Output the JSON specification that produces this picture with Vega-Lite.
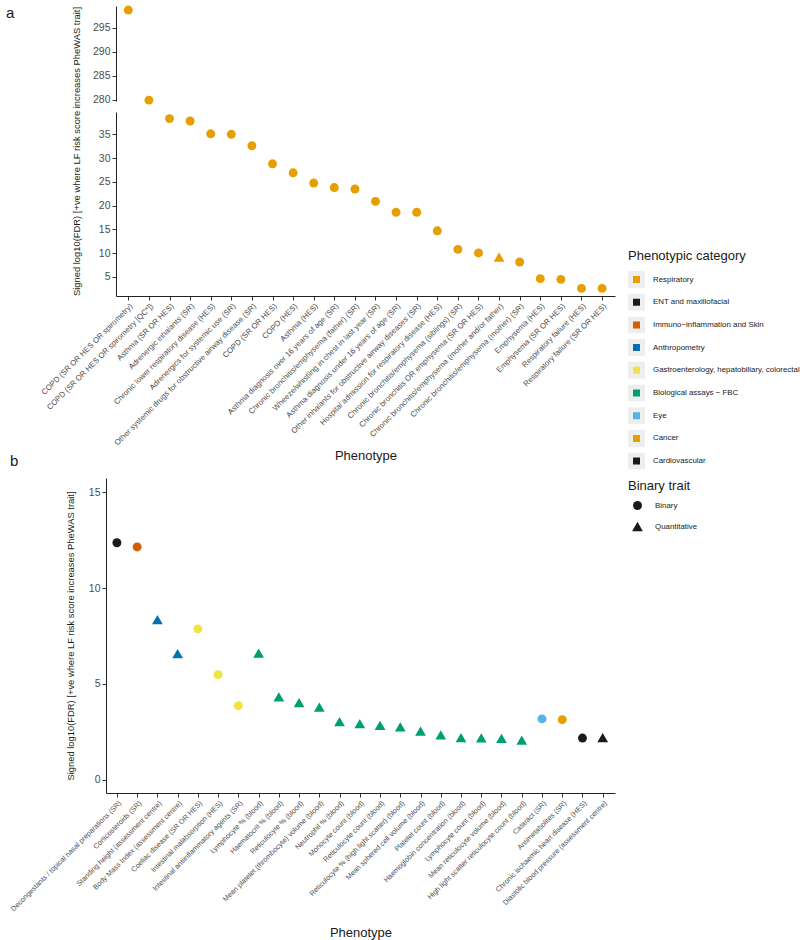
{
  "$schema": "https://vega.github.io/schema/vega-lite/v6.json",
  "background": "white",
  "padding": {"left": 6, "top": 5, "right": 0, "bottom": 0},
  "spacing": -9,
  "columns": 1,
  "align": "none",
  "config": {
    "font": "Liberation Sans",
    "view": {"stroke": null},
    "axis": {"grid": false, "domainColor": "#222222", "tickColor": "#333333", "labelColor": "#4d4d4d", "titleColor": "#1a1a1a", "titleFontWeight": "normal", "tickSize": 4},
    "legend": {"titleFontSize": 13, "titleFontWeight": "normal", "titleColor": "#1a1a1a", "labelFontSize": 7.9, "labelColor": "#1a1a1a", "padding": 0, "titlePadding": 8, "labelOffset": 8},
    "title": {"fontWeight": "normal", "fontSize": 15, "color": "#1a1a1a"}
  },
  "resolve": {"scale": {"x": "independent", "y": "independent"}},
  "datasets": {
    "a": [
      {"phen": "COPD (SR OR HES OR spirometry)", "val": 298.75, "cat": "Respiratory", "trait": "Binary"},
      {"phen": "COPD (SR OR HES OR spirometry [QC*])", "val": 279.9, "cat": "Respiratory", "trait": "Binary"},
      {"phen": "Asthma (SR OR HES)", "val": 38.3, "cat": "Respiratory", "trait": "Binary"},
      {"phen": "Adrenergic inhalants (SR)", "val": 37.8, "cat": "Respiratory", "trait": "Binary"},
      {"phen": "Chronic lower respiratory disease (HES)", "val": 35.1, "cat": "Respiratory", "trait": "Binary"},
      {"phen": "Adrenergics for systemic use (SR)", "val": 35.0, "cat": "Respiratory", "trait": "Binary"},
      {"phen": "Other systemic drugs for obstructive airway disease (SR)", "val": 32.6, "cat": "Respiratory", "trait": "Binary"},
      {"phen": "COPD (SR OR HES)", "val": 28.8, "cat": "Respiratory", "trait": "Binary"},
      {"phen": "COPD (HES)", "val": 26.9, "cat": "Respiratory", "trait": "Binary"},
      {"phen": "Asthma (HES)", "val": 24.75, "cat": "Respiratory", "trait": "Binary"},
      {"phen": "Asthma diagnosis over 16 years of age (SR)", "val": 23.8, "cat": "Respiratory", "trait": "Binary"},
      {"phen": "Chronic bronchitis/emphysema (father) (SR)", "val": 23.5, "cat": "Respiratory", "trait": "Binary"},
      {"phen": "Wheeze/whistling in chest in last year (SR)", "val": 20.9, "cat": "Respiratory", "trait": "Binary"},
      {"phen": "Asthma diagnosis under 16 years of age (SR)", "val": 18.6, "cat": "Respiratory", "trait": "Binary"},
      {"phen": "Other inhalants for obstructive airway diseases (SR)", "val": 18.6, "cat": "Respiratory", "trait": "Binary"},
      {"phen": "Hospital admission for respiratory disease (HES)", "val": 14.7, "cat": "Respiratory", "trait": "Binary"},
      {"phen": "Chronic bronchitis/emphysema (siblings) (SR)", "val": 10.8, "cat": "Respiratory", "trait": "Binary"},
      {"phen": "Chronic bronchitis OR emphysema (SR OR HES)", "val": 10.05, "cat": "Respiratory", "trait": "Binary"},
      {"phen": "Chronic bronchitis/emphysema (mother and/or father)", "val": 9.2, "cat": "Respiratory", "trait": "Quantitative"},
      {"phen": "Chronic bronchitis/emphysema (mother) (SR)", "val": 8.15, "cat": "Respiratory", "trait": "Binary"},
      {"phen": "Emphysema (HES)", "val": 4.65, "cat": "Respiratory", "trait": "Binary"},
      {"phen": "Emphysema (SR OR HES)", "val": 4.5, "cat": "Respiratory", "trait": "Binary"},
      {"phen": "Respiratory failure (HES)", "val": 2.6, "cat": "Respiratory", "trait": "Binary"},
      {"phen": "Respiratory failure (SR OR HES)", "val": 2.6, "cat": "Respiratory", "trait": "Binary"}
    ],
    "b": [
      {"phen": "Decongestants / topical nasal preparations (SR)", "val": 12.37, "cat": "ENT and maxillofacial", "trait": "Binary"},
      {"phen": "Corticosteroids (SR)", "val": 12.15, "cat": "Immuno\u2212inflammation and Skin", "trait": "Binary"},
      {"phen": "Standing height (assessment centre)", "val": 8.35, "cat": "Anthropometry", "trait": "Quantitative"},
      {"phen": "Body Mass Index (assessment centre)", "val": 6.58, "cat": "Anthropometry", "trait": "Quantitative"},
      {"phen": "Coeliac disease (SR OR HES)", "val": 7.87, "cat": "Gastroenterology, hepatobiliary, colorectal", "trait": "Binary"},
      {"phen": "Intestinal malabsorption (HES)", "val": 5.48, "cat": "Gastroenterology, hepatobiliary, colorectal", "trait": "Binary"},
      {"phen": "Intestinal antiinflammatory agents (SR)", "val": 3.86, "cat": "Gastroenterology, hepatobiliary, colorectal", "trait": "Binary"},
      {"phen": "Lymphocyte % (blood)", "val": 6.6, "cat": "Biological assays \u2212 FBC", "trait": "Quantitative"},
      {"phen": "Haematocrit % (blood)", "val": 4.32, "cat": "Biological assays \u2212 FBC", "trait": "Quantitative"},
      {"phen": "Reticulocyte % (blood)", "val": 4.02, "cat": "Biological assays \u2212 FBC", "trait": "Quantitative"},
      {"phen": "Mean platelet (thrombocyte) volume (blood)", "val": 3.78, "cat": "Biological assays \u2212 FBC", "trait": "Quantitative"},
      {"phen": "Neutrophil % (blood)", "val": 3.03, "cat": "Biological assays \u2212 FBC", "trait": "Quantitative"},
      {"phen": "Monocyte count (blood)", "val": 2.92, "cat": "Biological assays \u2212 FBC", "trait": "Quantitative"},
      {"phen": "Reticulocyte count (blood)", "val": 2.83, "cat": "Biological assays \u2212 FBC", "trait": "Quantitative"},
      {"phen": "Reticulocyte % (high light scatter) (blood)", "val": 2.75, "cat": "Biological assays \u2212 FBC", "trait": "Quantitative"},
      {"phen": "Mean sphered cell volume (blood)", "val": 2.53, "cat": "Biological assays \u2212 FBC", "trait": "Quantitative"},
      {"phen": "Platelet count (blood)", "val": 2.34, "cat": "Biological assays \u2212 FBC", "trait": "Quantitative"},
      {"phen": "Haemoglobin concentration (blood)", "val": 2.19, "cat": "Biological assays \u2212 FBC", "trait": "Quantitative"},
      {"phen": "Lymphocyte count (blood)", "val": 2.18, "cat": "Biological assays \u2212 FBC", "trait": "Quantitative"},
      {"phen": "Mean reticulocyte volume (blood)", "val": 2.15, "cat": "Biological assays \u2212 FBC", "trait": "Quantitative"},
      {"phen": "High light scatter reticulocyte count (blood)", "val": 2.06, "cat": "Biological assays \u2212 FBC", "trait": "Quantitative"},
      {"phen": "Cataract (SR)", "val": 3.17, "cat": "Eye", "trait": "Binary"},
      {"phen": "Antimetabolites (SR)", "val": 3.13, "cat": "Cancer", "trait": "Binary"},
      {"phen": "Chronic ischaemic heart disease (HES)", "val": 2.17, "cat": "Cardiovascular", "trait": "Binary"},
      {"phen": "Diastolic blood pressure (assessment centre)", "val": 2.19, "cat": "Cardiovascular", "trait": "Quantitative"}
    ]
  },
  "concat": [
    {
      "width": 499,
      "height": 290,
      "title": {"text": "a", "anchor": "start", "frame": "group", "orient": "top", "offset": 0, "dx": -110, "dy": 15, "fontSize": 15},
      "layer": [
        {
          "data": {"values": [{}]},
          "mark": {"type": "rect", "fill": "white", "stroke": "white", "strokeWidth": 3},
          "encoding": {"y": {"datum": 40}, "y2": {"datum": 279.2}}
        },
        {
          "data": {"name": "a"},
          "mark": {"type": "point", "filled": true, "opacity": 1},
          "encoding": {
            "x": {
              "field": "phen", "type": "nominal", "sort": null,
              "scale": {"type": "point", "padding": 0.612, "align": 0.488, "domain": ["COPD (SR OR HES OR spirometry)", "COPD (SR OR HES OR spirometry [QC*])", "Asthma (SR OR HES)", "Adrenergic inhalants (SR)", "Chronic lower respiratory disease (HES)", "Adrenergics for systemic use (SR)", "Other systemic drugs for obstructive airway disease (SR)", "COPD (SR OR HES)", "COPD (HES)", "Asthma (HES)", "Asthma diagnosis over 16 years of age (SR)", "Chronic bronchitis/emphysema (father) (SR)", "Wheeze/whistling in chest in last year (SR)", "Asthma diagnosis under 16 years of age (SR)", "Other inhalants for obstructive airway diseases (SR)", "Hospital admission for respiratory disease (HES)", "Chronic bronchitis/emphysema (siblings) (SR)", "Chronic bronchitis OR emphysema (SR OR HES)", "Chronic bronchitis/emphysema (mother and/or father)", "Chronic bronchitis/emphysema (mother) (SR)", "Emphysema (HES)", "Emphysema (SR OR HES)", "Respiratory failure (HES)", "Respiratory failure (SR OR HES)"]},
              "axis": {"title": "Phenotype", "titleFontSize": 13, "titlePadding": 3, "labelAngle": -45, "labelAlign": "right", "labelBaseline": "top", "labelFontSize": 7.8, "labelLimit": 400, "labelPadding": 2}
            },
            "y": {
              "field": "val", "type": "quantitative",
              "scale": {"domain": [1, 39.9, 279.3, 299.6], "range": [290, 105, 97, 0], "nice": false, "zero": false},
              "axis": {"title": "Signed log10(FDR) [+ve where LF risk score increases PheWAS trait]", "values": [5, 10, 15, 20, 25, 30, 35, 280, 285, 290, 295], "tickCount": 100, "labelOverlap": false, "titleFontSize": 9.4, "labelFontSize": 10.5, "titlePadding": 11}
            },
            "color": {
              "field": "cat", "type": "nominal",
              "scale": {"domain": ["Respiratory", "ENT and maxillofacial", "Immuno\u2212inflammation and Skin", "Anthropometry", "Gastroenterology, hepatobiliary, colorectal", "Biological assays \u2212 FBC", "Eye", "Cancer", "Cardiovascular"], "range": ["#E69F00", "#1a1a1a", "#D55E00", "#0072B2", "#F0E442", "#009E73", "#56B4E9", "#E69F00", "#1a1a1a"]},
              "legend": {"title": "Phenotypic category", "orient": "none", "legendX": 512, "legendY": 244, "symbolType": "square", "symbolSize": 144, "clipHeight": 17, "rowPadding": 5.7, "symbolStrokeColor": "#eeeeee", "symbolStrokeWidth": 5, "encode": {"symbols": {"update": {"stroke": {"value": "#eeeeee"}, "strokeWidth": {"value": 5}, "shape": {"value": "square"}}}}}
            },
            "shape": {
              "field": "trait", "type": "nominal",
              "scale": {"domain": ["Binary", "Quantitative"], "range": ["circle", "triangle-up"]},
              "legend": {"title": "Binary trait", "orient": "none", "legendX": 512, "legendY": 474, "symbolFillColor": "#1a1a1a", "symbolStrokeWidth": 0, "symbolOffset": 4, "labelOffset": 12, "rowPadding": 11}
            },
            "size": {
              "field": "trait", "type": "nominal",
              "scale": {"domain": ["Binary", "Quantitative"], "range": [80, 115]},
              "legend": {"title": "Binary trait", "orient": "none", "legendX": 512, "legendY": 474, "symbolFillColor": "#1a1a1a", "symbolStrokeWidth": 0, "symbolOffset": 4, "labelOffset": 12, "rowPadding": 11}
            }
          }
        }
      ]
    },
    {
      "width": 499,
      "height": 315,
      "title": {"text": "b", "anchor": "start", "frame": "group", "orient": "top", "offset": 9, "dx": -106, "fontSize": 15},
      "data": {"name": "b"},
      "mark": {"type": "point", "filled": true, "opacity": 1},
      "encoding": {
        "x": {
          "field": "phen", "type": "nominal", "sort": null,
          "scale": {"type": "point", "range": [-10, 499], "padding": 0.573, "align": 0.47, "domain": ["Decongestants / topical nasal preparations (SR)", "Corticosteroids (SR)", "Standing height (assessment centre)", "Body Mass Index (assessment centre)", "Coeliac disease (SR OR HES)", "Intestinal malabsorption (HES)", "Intestinal antiinflammatory agents (SR)", "Lymphocyte % (blood)", "Haematocrit % (blood)", "Reticulocyte % (blood)", "Mean platelet (thrombocyte) volume (blood)", "Neutrophil % (blood)", "Monocyte count (blood)", "Reticulocyte count (blood)", "Reticulocyte % (high light scatter) (blood)", "Mean sphered cell volume (blood)", "Platelet count (blood)", "Haemoglobin concentration (blood)", "Lymphocyte count (blood)", "Mean reticulocyte volume (blood)", "High light scatter reticulocyte count (blood)", "Cataract (SR)", "Antimetabolites (SR)", "Chronic ischaemic heart disease (HES)", "Diastolic blood pressure (assessment centre)"]},
          "axis": {"title": "Phenotype", "titleFontSize": 13, "titlePadding": 14, "labelAngle": -45, "labelAlign": "right", "labelBaseline": "top", "labelFontSize": 7.2, "labelLimit": 400, "labelPadding": 2}
        },
        "y": {
          "field": "val", "type": "quantitative",
          "scale": {"domain": [-0.7, 15.75], "nice": false, "zero": false},
          "axis": {"title": "Signed log10(FDR) [+ve where LF risk score increases PheWAS trait]", "values": [0, 5, 10, 15], "offset": 10, "titleFontSize": 9.4, "labelFontSize": 10.5, "titlePadding": 13}
        },
        "color": {"field": "cat", "type": "nominal"},
        "shape": {"field": "trait", "type": "nominal"},
        "size": {"field": "trait", "type": "nominal"}
      }
    }
  ]
}
